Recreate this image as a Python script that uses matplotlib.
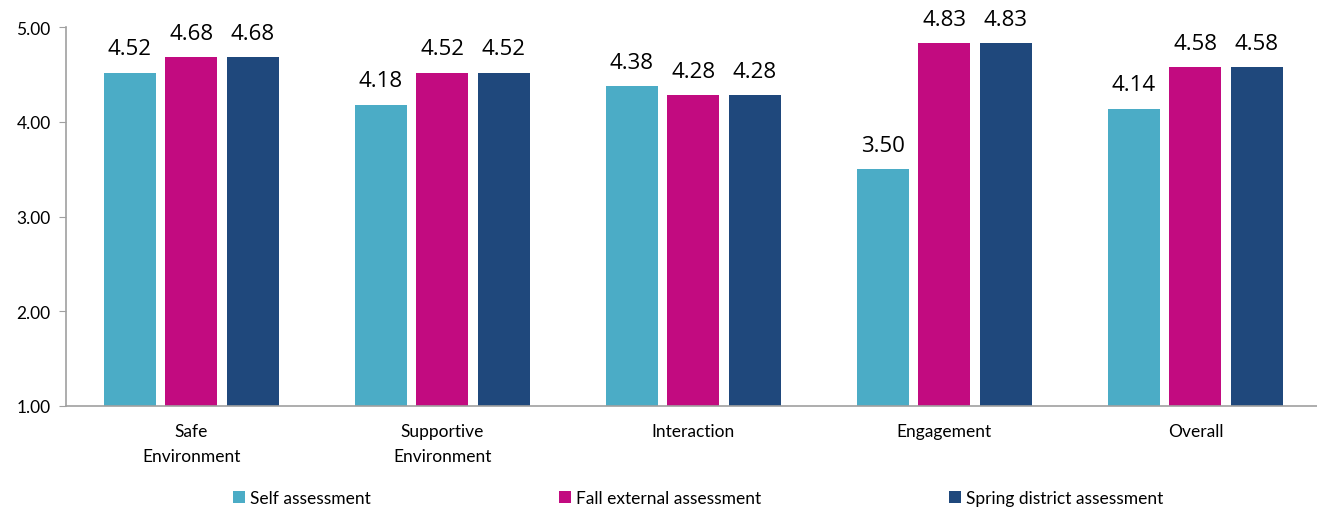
import numpy as np
import matplotlib.pyplot as plt

plt.rcParams['font.family'] = ['Lato', 'DejaVu Sans']

categorias = ["Safe\nEnvironment", "Supportive\nEnvironment", "Interaction", "Engagement", "Overall"]
series = ["Self assessment", "Fall external assessment", "Spring district assessment"]
autoevaluacion = [4.52, 4.18, 4.38, 3.50, 4.14]
otono_externa = [4.68, 4.52, 4.28, 4.83, 4.58]
primavera_distrito = [4.68, 4.52, 4.28, 4.83, 4.58]
colores = ["#4BACC6", "#C20B80", "#1F487C"]

fig = plt.figure(figsize=(13.17, 5.10), dpi=100)
ax = fig.add_axes([0.050, 0.202, 0.953, 0.743])

x = np.arange(len(categorias))
ancho = 0.207
paso = 0.245
for k, (vals, nombre) in enumerate(zip([autoevaluacion, otono_externa, primavera_distrito], series)):
    pos = x + (k - 1) * paso
    ax.bar(pos, np.array(vals) - 1, ancho, bottom=1, color=colores[k], label=nombre)
    for xi, v in zip(pos, vals):
        ax.text(xi, v + 0.14, f"{v:.2f}", ha='center', va='bottom', fontsize=16,
                family=['Open Sans', 'DejaVu Sans'])

ax.set_xlim(-0.5, len(categorias) - 0.5)
ax.set_ylim(1, 5)
ax.set_yticks([1, 2, 3, 4, 5])
ax.set_yticklabels([f"{v:.2f}" for v in [1, 2, 3, 4, 5]], fontsize=12.5)
ax.set_xticks(x)
ax.set_xticklabels(categorias, fontsize=12.5, linespacing=1.75)
ax.tick_params(axis='x', length=0, pad=12)
ax.tick_params(axis='y', length=5, color='#A0A0A0', pad=6)
for lado in ['top', 'right']:
    ax.spines[lado].set_visible(False)
for lado in ['left', 'bottom']:
    ax.spines[lado].set_color('#A0A0A0')
    ax.spines[lado].set_linewidth(1.2)

fig.legend(loc='center', bbox_to_anchor=(0.53, 0.022), ncol=3, frameon=False,
           fontsize=12.5, handlelength=0.7, handleheight=0.7, handletextpad=0.3,
           columnspacing=10.8)

fig.savefig("out.png", dpi=100)
